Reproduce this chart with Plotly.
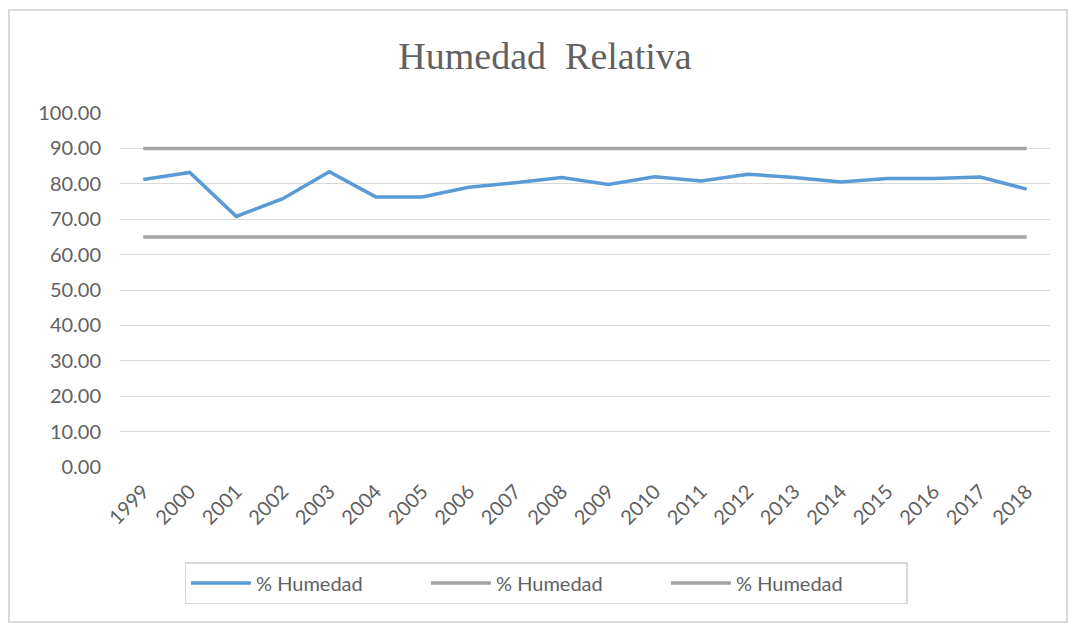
import plotly.graph_objects as go

# Annual relative humidity with upper / lower reference levels
years = [str(y) for y in range(1999, 2019)]
humedad = [81.2, 83.2, 70.8, 75.8, 83.4, 76.3, 76.3, 79.0, 80.3, 81.8,
           79.8, 82.0, 80.8, 82.7, 81.8, 80.5, 81.5, 81.5, 81.9, 78.5]
limite_sup = [90.0] * len(years)
limite_inf = [65.0] * len(years)
y_ticks = [0, 10, 20, 30, 40, 50, 60, 70, 80, 90, 100]

BLUE = "#5b9bd5"
GRAY = "#a5a5a5"
TEXT = "#616161"
GRID = "#d9d9d9"
FONT = "Lato"

fig = go.Figure()
fig.add_trace(go.Scatter(x=years, y=humedad, mode="lines", name="% Humedad",
                         line=dict(color=BLUE, width=3.5)))
fig.add_trace(go.Scatter(x=years, y=limite_sup, mode="lines", name="% Humedad",
                         line=dict(color=GRAY, width=3.5)))
fig.add_trace(go.Scatter(x=years, y=limite_inf, mode="lines", name="% Humedad",
                         line=dict(color=GRAY, width=3.5)))

W, H = 1070, 625
ML, MR, MT, MB = 120, 20, 113, 158
pw, ph = W - ML - MR, H - MT - MB

def px_x(px):
    return (px - ML) / pw

def px_y(py):
    return (H - MB - py) / ph

fig.update_layout(
    width=W, height=H,
    margin=dict(l=ML, r=MR, t=MT, b=MB),
    paper_bgcolor="white", plot_bgcolor="white",
    title=dict(text="Humedad  Relativa", x=545 / W, xanchor="center",
               xref="container", y=1 - 56 / H, yref="container", yanchor="middle",
               font=dict(family="Liberation Serif", size=38, color=TEXT)),
    xaxis=dict(type="category", range=[-0.5, len(years) - 0.5],
               tickangle=-45, showgrid=False, showline=False, ticks="",
               ticklabelstandoff=8,
               tickfont=dict(family=FONT, size=20, color=TEXT)),
    yaxis=dict(range=[0, 100], tickvals=y_ticks,
               ticktext=[f"{v:.2f}" for v in y_ticks],
               showgrid=True, gridcolor=GRID, gridwidth=1, zeroline=False,
               showline=False, ticks="", ticklabelstandoff=18,
               tickfont=dict(family=FONT, size=20, color=TEXT)),
    showlegend=True,
    legend=dict(orientation="h", x=px_x(546), xanchor="center",
                y=px_y(562), yanchor="top",
                bordercolor=GRID, borderwidth=1.5, bgcolor="white",
                itemwidth=60, entrywidth=165,
                font=dict(family=FONT, size=20, color=TEXT)),
    shapes=[dict(type="rect", xref="paper", yref="paper",
                 x0=px_x(9), x1=px_x(1067), y0=px_y(622), y1=px_y(10),
                 line=dict(color=GRID, width=2), layer="below")],
)

fig.write_html("out.html")
